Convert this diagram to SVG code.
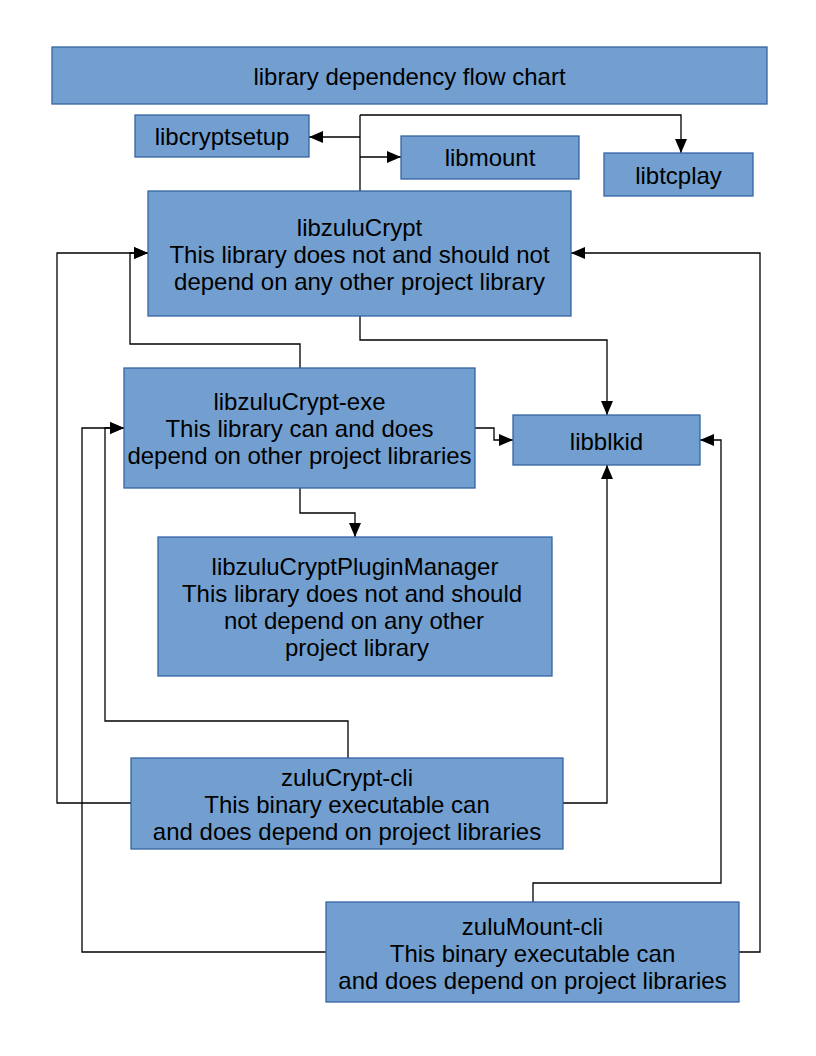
<svg xmlns="http://www.w3.org/2000/svg" width="816" height="1056" viewBox="0 0 816 1056">
<style>
.box{fill:#729fcf;stroke:#3465a4;stroke-width:1.3}
.t{font-family:"Liberation Sans",Arial,sans-serif;font-size:24px;fill:#000;text-anchor:middle}
.c{fill:none;stroke:#000;stroke-width:1.3;marker-end:url(#arr)}
.n{fill:none;stroke:#000;stroke-width:1.3}
</style>
<defs>
<marker id="arr" viewBox="0 0 14 12" refX="14" refY="6" markerWidth="14" markerHeight="12" markerUnits="userSpaceOnUse" orient="auto">
<path d="M0,0 L14,6 L0,12 z" fill="#000"/>
</marker>
</defs>
<rect width="816" height="1056" fill="#fff"/>
<g id="connectors">
<path class="n" d="M360,191 V115"/>
<path class="c" d="M360,115 H681 V153"/>
<path class="c" d="M360,137 H309"/>
<path class="c" d="M360,157 H401"/>
<path class="c" d="M360,316 V340 H607 V415"/>
<path class="c" d="M300,368 V344 H130 V253 H148"/>
<path class="c" d="M131,803 H57 V253 H148"/>
<path class="c" d="M563,803 H607 V465"/>
<path class="c" d="M348,758 V721 H105 V428 H124"/>
<path class="c" d="M326,952 H82 V428 H124"/>
<path class="c" d="M533,902 V883 H721 V440 H700"/>
<path class="c" d="M739,952 H760 V253 H571"/>
<path class="c" d="M475,428 H494 V440 H513"/>
<path class="c" d="M300,488 V513 H355 V537"/>
</g>
<g id="title">
<rect class="box" x="52" y="47" width="715" height="57"/>
<text class="t" x="409.5" y="84.5">library dependency flow chart</text>
</g>
<g id="libcryptsetup">
<rect class="box" x="135" y="115" width="174" height="42"/>
<text class="t" x="222" y="144.5">libcryptsetup</text>
</g>
<g id="libmount">
<rect class="box" x="401" y="136" width="178" height="43"/>
<text class="t" x="490" y="165.5">libmount</text>
</g>
<g id="libtcplay">
<rect class="box" x="604" y="153" width="149" height="43"/>
<text class="t" x="678.5" y="183.5">libtcplay</text>
</g>
<g id="libzuluCrypt">
<rect class="box" x="148" y="191" width="423" height="125"/>
<text class="t" x="359.5" y="235.5">libzuluCrypt</text>
<text class="t" x="359.5" y="262.5">This library does not and should not</text>
<text class="t" x="359.5" y="289.5">depend on any other project library</text>
</g>
<g id="libzuluCrypt-exe">
<rect class="box" x="124" y="368" width="351" height="120"/>
<text class="t" x="299.5" y="409.5">libzuluCrypt-exe</text>
<text class="t" x="299.5" y="436.5">This library can and does</text>
<text class="t" x="299.5" y="463.5">depend on other project libraries</text>
</g>
<g id="libblkid">
<rect class="box" x="513" y="415" width="187" height="50"/>
<text class="t" x="606.5" y="449.5">libblkid</text>
</g>
<g id="libzuluCryptPluginManager">
<rect class="box" x="158" y="537" width="394" height="139"/>
<text class="t" x="355" y="574.5">libzuluCryptPluginManager</text>
<text class="t" x="352" y="601.5">This library does not and should</text>
<text class="t" x="354" y="628.5">not depend on any other</text>
<text class="t" x="357" y="655.5">project library</text>
</g>
<g id="zuluCrypt-cli">
<rect class="box" x="131" y="758" width="432" height="91"/>
<text class="t" x="347" y="785.5">zuluCrypt-cli</text>
<text class="t" x="347" y="812.5">This binary executable can</text>
<text class="t" x="347" y="839.5">and does depend on project libraries</text>
</g>
<g id="zuluMount-cli">
<rect class="box" x="326" y="902" width="413" height="100"/>
<text class="t" x="532.5" y="934.5">zuluMount-cli</text>
<text class="t" x="532.5" y="961.5">This binary executable can</text>
<text class="t" x="532.5" y="988.5">and does depend on project libraries</text>
</g>
</svg>
